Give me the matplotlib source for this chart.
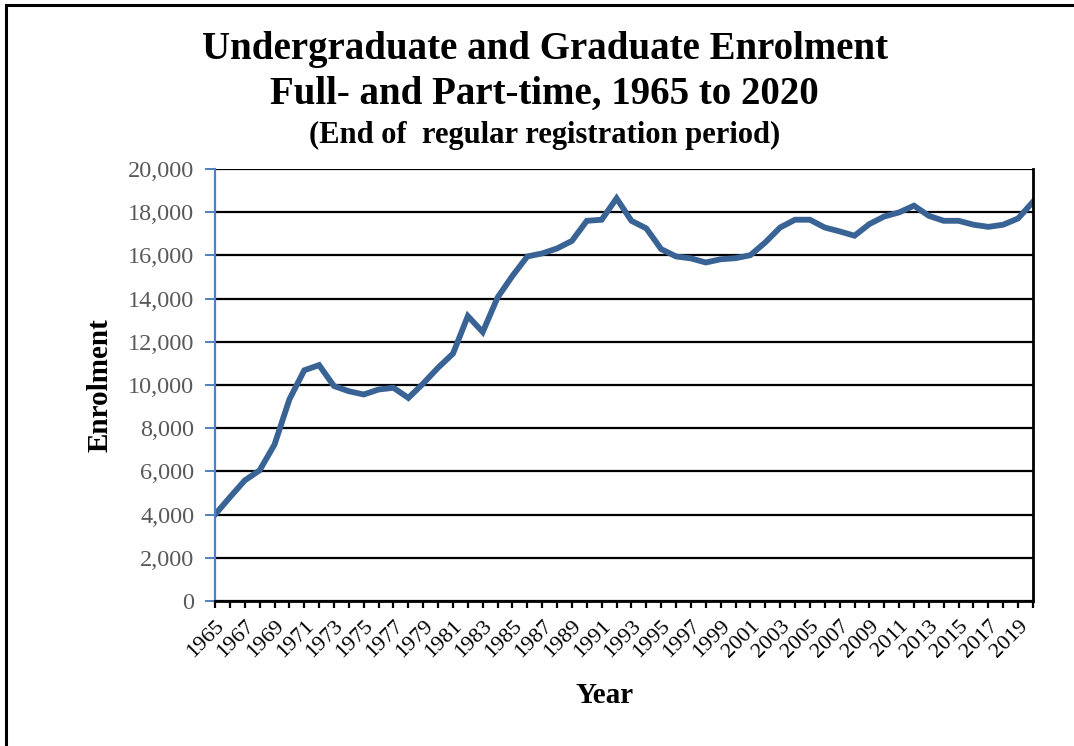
import matplotlib.pyplot as plt
from matplotlib.patches import Rectangle

# Enrolment, end of regular registration period
years = list(range(1965, 2021))
enrolment = [
    4000, 4800, 5580, 6050, 7240, 9330, 10680, 10920, 9950, 9710,
    9560, 9790, 9870, 9400, 10070, 10800, 11450, 13190, 12450, 14050,
    15050, 15950, 16090, 16320, 16670, 17600, 17650, 18640, 17600, 17250,
    16290, 15950, 15860, 15670, 15820, 15870, 16010, 16600, 17290, 17650,
    17650, 17290, 17110, 16910, 17450, 17800, 17990, 18300, 17830, 17600,
    17600, 17420, 17320, 17420, 17710, 18480,
]
y_ticks = list(range(0, 20001, 2000))

serif = "Liberation Serif"
line_color = "#3A6395"
axis_blue = "#4F81BD"
label_gray = "#595959"

fig = plt.figure(figsize=(10.74, 7.46), dpi=100)
ax = fig.add_axes([0.2002, 0.1944, 0.7616, 0.5791])

ax.plot(years, enrolment, color=line_color, linewidth=4.2, solid_joinstyle="miter")

ax.set_xlim(1965, 2020)
ax.set_ylim(0, 20000)

# horizontal gridlines
ax.set_yticks(y_ticks)
ax.yaxis.grid(True, color="black", linewidth=1.6)
ax.set_axisbelow(True)
ax.set_yticklabels([f"{v:,}" for v in y_ticks], fontsize=17.5, family=serif, color=label_gray)
ax.tick_params(axis="y", direction="out", length=7, width=1.4, color=axis_blue, pad=8)

ax.set_xticks(years)
ax.set_xticklabels([str(y) if (y - 1965) % 2 == 0 else "" for y in years],
                   rotation=45, ha="right", rotation_mode="anchor",
                   fontsize=16, family=serif, color="black")
ax.tick_params(axis="x", direction="out", length=5, width=1.6, color="black", pad=6)

ax.spines["left"].set_color(axis_blue)
ax.spines["left"].set_linewidth(1.6)
ax.spines["right"].set_color("black")
ax.spines["right"].set_linewidth(2)
ax.spines["bottom"].set_color("black")
ax.spines["bottom"].set_linewidth(2)
ax.spines["top"].set_visible(False)

# titles
fig.text(0.507, 0.934, "Undergraduate and Graduate Enrolment", ha="center", va="center",
         fontsize=28, fontweight="bold", family=serif)
fig.text(0.507, 0.874, "Full- and Part-time, 1965 to 2020", ha="center", va="center",
         fontsize=28, fontweight="bold", family=serif)
fig.text(0.507, 0.818, "(End of  regular registration period)", ha="center", va="center",
         fontsize=22, fontweight="bold", family=serif)

ax.set_ylabel("Enrolment", fontsize=21, fontweight="bold", family=serif, labelpad=10)
fig.text(0.563, 0.068, "Year", ha="center", va="center",
         fontsize=21, fontweight="bold", family=serif)

# frame around the chart area
fig.patches.append(Rectangle((6 / 1074, -0.1), 1.2, 1 - 5 / 746 + 0.1, transform=fig.transFigure,
                             fill=False, edgecolor="black", linewidth=2.2))

fig.savefig("out.png", dpi=100)
